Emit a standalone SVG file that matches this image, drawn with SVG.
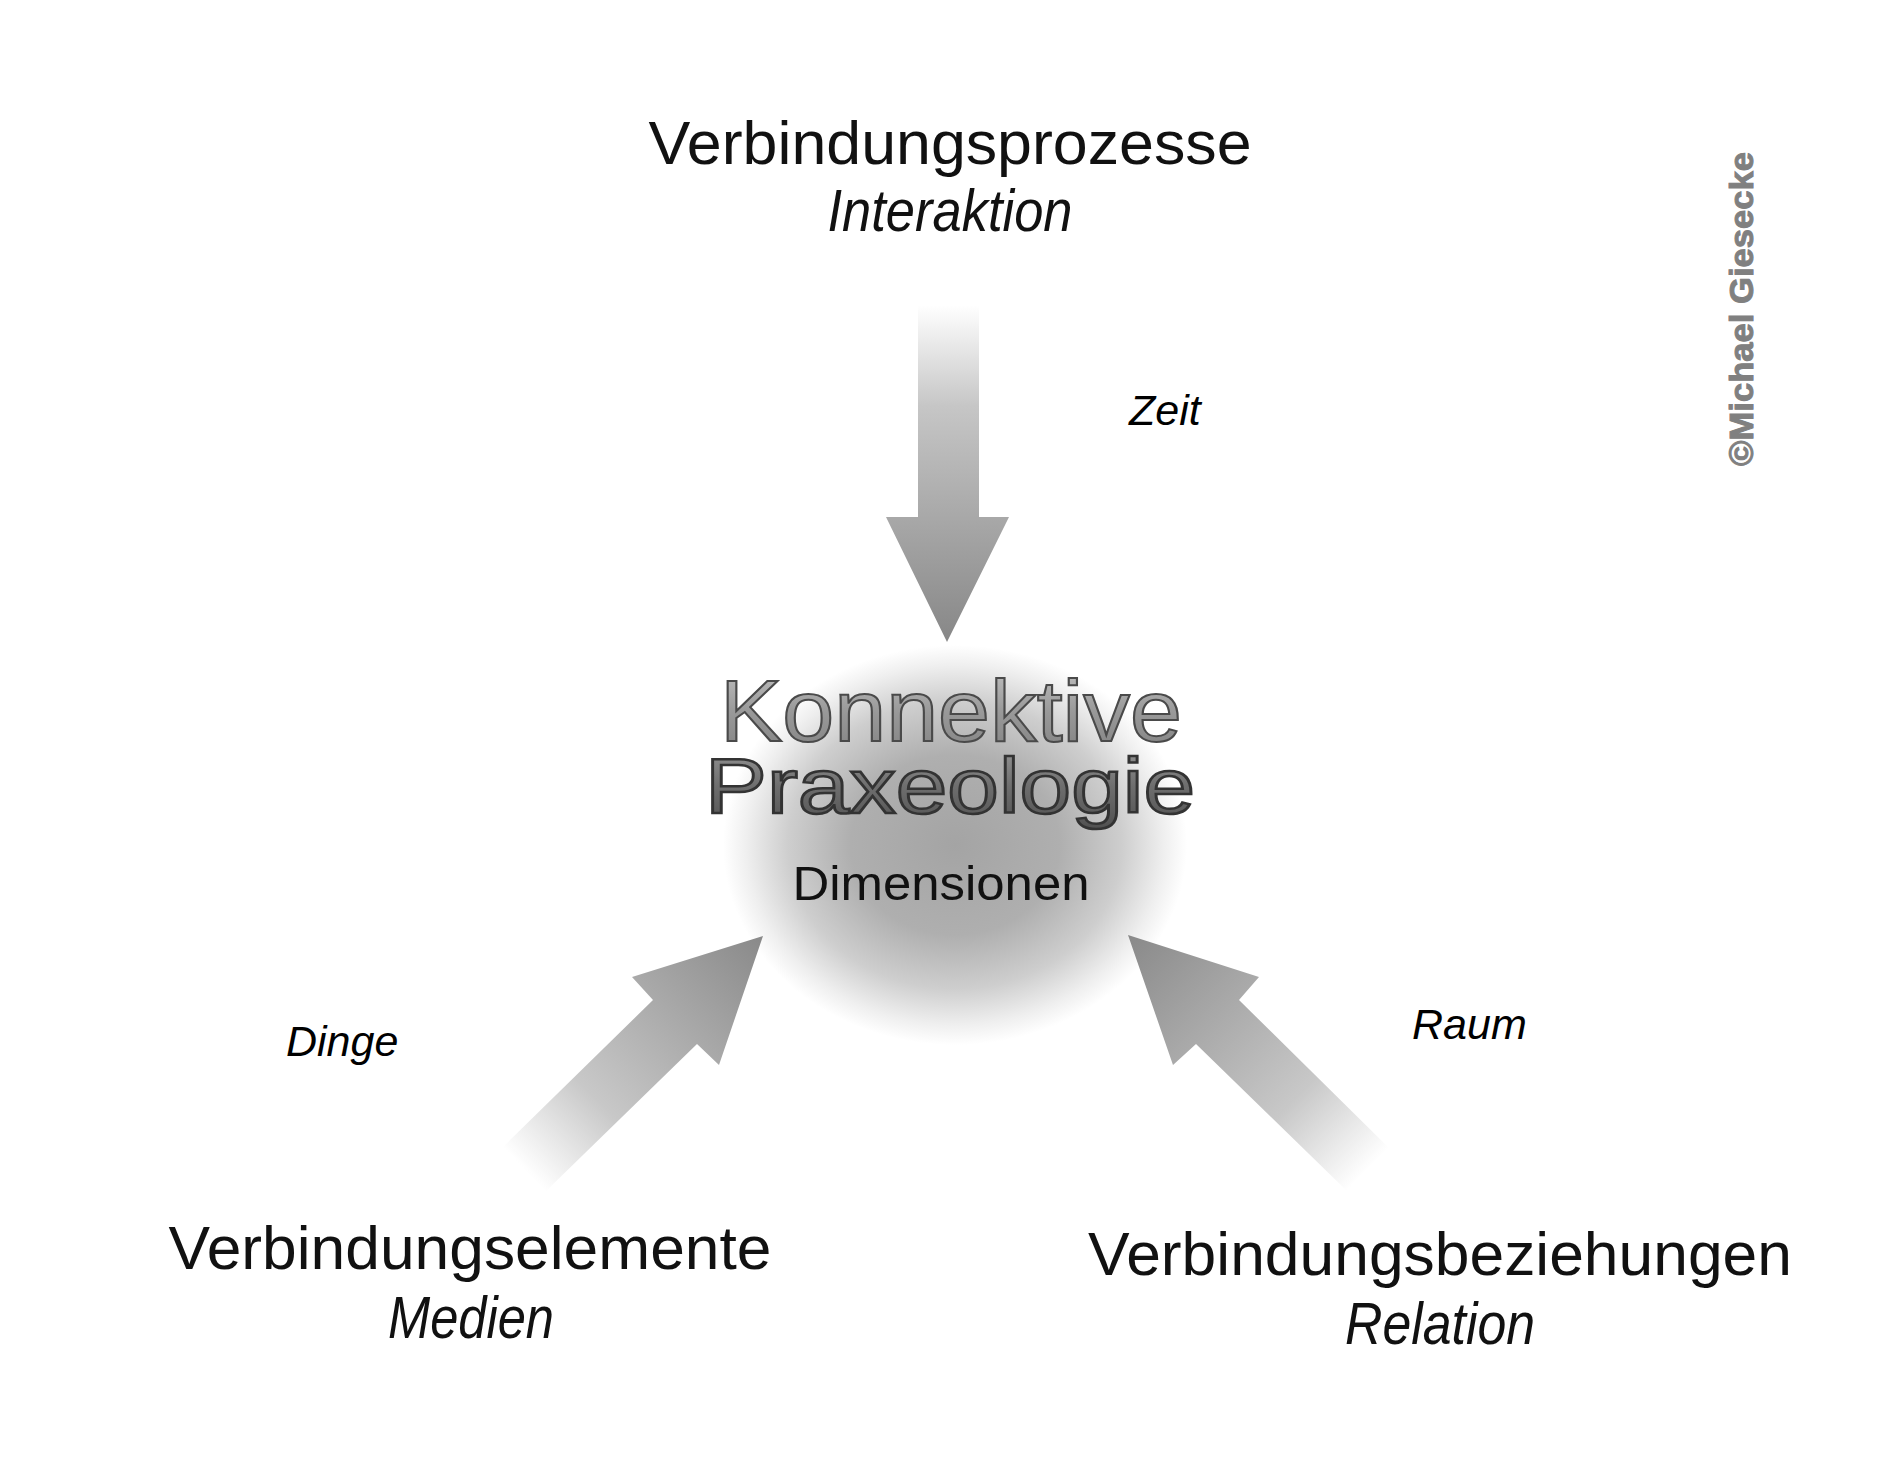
<svg xmlns="http://www.w3.org/2000/svg" width="1890" height="1474" viewBox="0 0 1890 1474">
  <defs>
    <radialGradient id="sphere" cx="0.5" cy="0.5" r="0.5">
      <stop offset="0" stop-color="#a4a4a4"/>
      <stop offset="0.45" stop-color="#afafaf"/>
      <stop offset="0.72" stop-color="#cecece"/>
      <stop offset="0.9" stop-color="#efefef"/>
      <stop offset="1" stop-color="#ffffff"/>
    </radialGradient>
    <linearGradient id="gDown" x1="0" y1="305" x2="0" y2="642" gradientUnits="userSpaceOnUse">
      <stop offset="0" stop-color="#ffffff"/>
      <stop offset="0.3" stop-color="#c6c6c6"/>
      <stop offset="1" stop-color="#878787"/>
    </linearGradient>
    <linearGradient id="gLeft" x1="524" y1="1169" x2="763" y2="936" gradientUnits="userSpaceOnUse">
      <stop offset="0" stop-color="#ffffff"/>
      <stop offset="0.3" stop-color="#c8c8c8"/>
      <stop offset="1" stop-color="#898989"/>
    </linearGradient>
    <linearGradient id="gRight" x1="1368" y1="1169" x2="1128" y2="935" gradientUnits="userSpaceOnUse">
      <stop offset="0" stop-color="#ffffff"/>
      <stop offset="0.3" stop-color="#c8c8c8"/>
      <stop offset="1" stop-color="#898989"/>
    </linearGradient>
    <linearGradient id="metalLight" x1="0" y1="0" x2="0" y2="1">
      <stop offset="0" stop-color="#c4c4c4"/>
      <stop offset="0.5" stop-color="#9a9a9a"/>
      <stop offset="1" stop-color="#808080"/>
    </linearGradient>
    <linearGradient id="metalDark" x1="0" y1="0" x2="0" y2="1">
      <stop offset="0" stop-color="#9a9a9a"/>
      <stop offset="0.5" stop-color="#6e6e6e"/>
      <stop offset="1" stop-color="#505050"/>
    </linearGradient>
    <style>
      .title { font-family: "Liberation Sans", Arial, sans-serif; font-size: 62px; fill: #111; text-anchor: middle; }
      .sub { font-family: "Liberation Sans", Arial, sans-serif; font-size: 60px; font-style: italic; fill: #111; text-anchor: middle; }
      .dim { font-family: "Liberation Sans", Arial, sans-serif; font-size: 43px; font-style: italic; fill: #000; }
      .metal { font-family: "Liberation Sans", Arial, sans-serif; text-anchor: middle; }
      .arrow { stroke: none; }
    </style>
  </defs>

  <rect x="0" y="0" width="1890" height="1474" fill="#ffffff"/>

  <g id="node-center">
    <ellipse cx="955" cy="845" rx="232" ry="200" fill="url(#sphere)"/>
    <text class="metal" x="951" y="741" font-size="87" fill="url(#metalLight)" stroke="#4a4a4a" stroke-width="2" textLength="462" lengthAdjust="spacingAndGlyphs">Konnektive</text>
    <text class="metal" x="950" y="813" font-size="78" fill="url(#metalDark)" stroke="#333333" stroke-width="2.5" textLength="490" lengthAdjust="spacingAndGlyphs">Praxeologie</text>
    <text x="941" y="900" font-family="Liberation Sans, Arial, sans-serif" font-size="48" fill="#111" text-anchor="middle" textLength="297" lengthAdjust="spacingAndGlyphs">Dimensionen</text>
  </g>

  <g id="connectors">
    <polygon class="arrow" fill="url(#gDown)" points="918,305 979,305 979,517 1009,517 947,642 886,517 918,517"/>
    <polygon class="arrow" fill="url(#gLeft)" points="503,1147 653,1000 632,977 763,936 719,1065 697,1044 546,1191"/>
    <polygon class="arrow" fill="url(#gRight)" points="1389,1148 1239,1000 1259,977 1128,935 1173,1065 1196,1044 1347,1191"/>
  </g>

  <g id="node-top">
    <text class="title" x="950" y="164" textLength="603" lengthAdjust="spacingAndGlyphs">Verbindungsprozesse</text>
    <text class="sub" x="950" y="231" textLength="245" lengthAdjust="spacingAndGlyphs">Interaktion</text>
  </g>

  <g id="node-left">
    <text class="title" x="470" y="1269" textLength="603" lengthAdjust="spacingAndGlyphs">Verbindungselemente</text>
    <text class="sub" x="471" y="1338" textLength="166" lengthAdjust="spacingAndGlyphs">Medien</text>
  </g>

  <g id="node-right">
    <text class="title" x="1440" y="1275" textLength="704" lengthAdjust="spacingAndGlyphs">Verbindungsbeziehungen</text>
    <text class="sub" x="1440" y="1344" textLength="190" lengthAdjust="spacingAndGlyphs">Relation</text>
  </g>

  <g id="labels">
    <text class="dim" x="1129" y="425">Zeit</text>
    <text class="dim" x="286" y="1056">Dinge</text>
    <text class="dim" x="1412" y="1039">Raum</text>
  </g>

  <g id="copyright">
    <text transform="translate(1753 466) rotate(-90)" x="0" y="0" font-family="Liberation Sans, Arial, sans-serif" font-size="34" font-weight="bold" fill="#808080" stroke="#808080" stroke-width="1" textLength="314" lengthAdjust="spacingAndGlyphs">©Michael Giesecke</text>
  </g>
</svg>
